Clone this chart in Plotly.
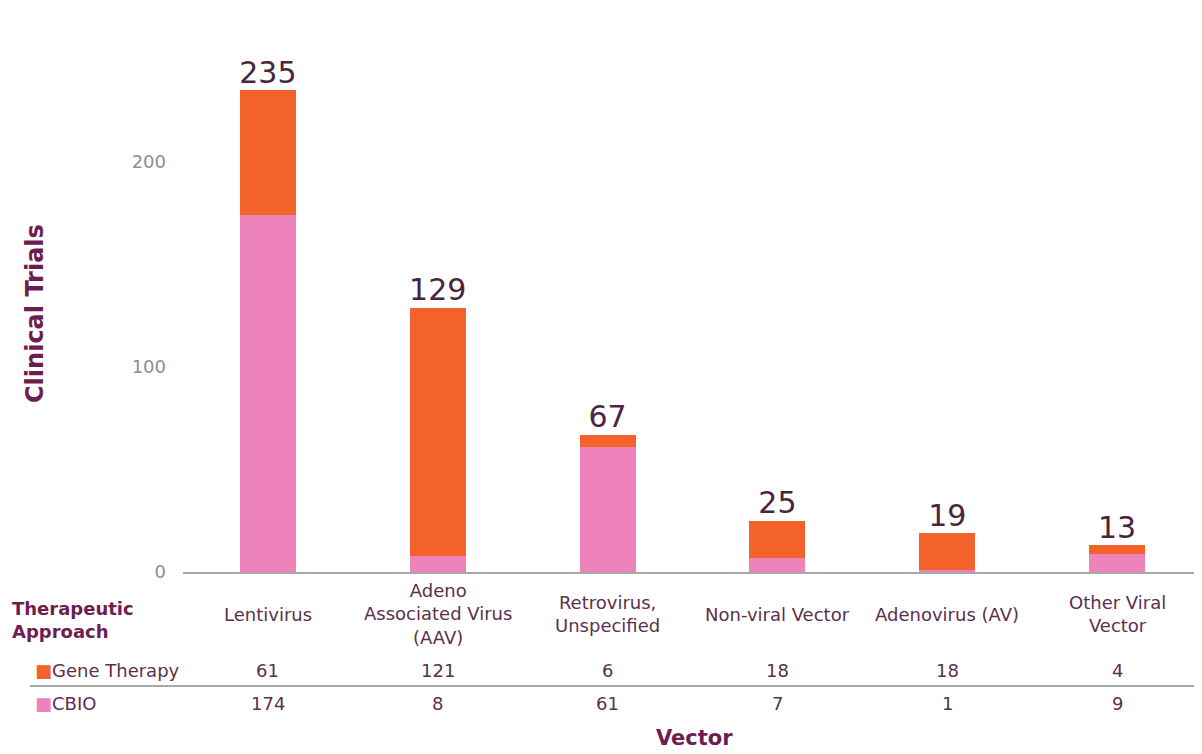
import plotly.graph_objects as go

categories = ["Lentivirus", "Adeno Associated Virus (AAV)", "Retrovirus, Unspecified",
              "Non-viral Vector", "Adenovirus (AV)", "Other Viral Vector"]
category_labels = ["Lentivirus", "Adeno<br>Associated Virus<br>(AAV)", "Retrovirus,<br>Unspecified",
                   "Non-viral Vector", "Adenovirus (AV)", "Other Viral<br>Vector"]
gene_therapy = [61, 121, 6, 18, 18, 4]
cbio = [174, 8, 61, 7, 1, 9]
totals = [g + c for g, c in zip(gene_therapy, cbio)]
y_ticks = [0, 100, 200]

ORANGE = "#F3622A"
PINK = "#EE83BC"
TXT = "#5a3050"
TITLE = "#6e1d50"
FONT = "DejaVu Sans"

OFF = 8  # page body margin in the browser
W, H = 1202 - OFF, 754 - OFF
ZERO_Y = 572  # screen pixel of the zero line
L = 183 - OFF
T = 18 - OFF
R = 0
B = H - (ZERO_Y - OFF)
plot_h = H - T - B


def py(pix):
    return (ZERO_Y - pix) / plot_h


def px(pix):
    return (pix - 183) / (W - L - R)


fig = go.Figure()
fig.add_trace(go.Bar(x=categories, y=cbio, name="CBIO", marker_color=PINK,
                     marker_line_width=0, showlegend=False))
fig.add_trace(go.Bar(x=categories, y=gene_therapy, name="Gene Therapy", marker_color=ORANGE,
                     marker_line_width=0, showlegend=False))
fig.add_trace(go.Scatter(x=categories, y=totals, mode="text", text=[str(t) for t in totals],
                         textposition="top center",
                         textfont=dict(family=FONT, size=30, color="#4a2540"),
                         showlegend=False, hoverinfo="skip"))

fig.update_layout(
    width=W, height=H,
    margin=dict(l=L, r=R, t=T, b=B),
    paper_bgcolor="white", plot_bgcolor="white",
    barmode="stack", bargap=0.67,
    font=dict(family=FONT, size=18, color=TXT),
    xaxis=dict(showticklabels=False, showline=True, linecolor="#a8a8a8", linewidth=2,
               ticks="", showgrid=False, zeroline=False),
    yaxis=dict(range=[0, plot_h / 2.05], tickvals=y_ticks, showgrid=False, zeroline=False,
               showline=False, ticks="", ticklabelstandoff=16,
               tickfont=dict(family=FONT, size=18, color="#8e8e8e")),
)

anns = []
for cat, lab, g, c in zip(categories, category_labels, gene_therapy, cbio):
    anns.append(dict(x=cat, xref="x", y=py(614), yref="paper", text=lab, showarrow=False,
                     yanchor="middle", font=dict(size=18, color=TXT)))
    anns.append(dict(x=cat, xref="x", y=py(670), yref="paper", text=str(g), showarrow=False,
                     yanchor="middle", font=dict(size=18, color=TXT)))
    anns.append(dict(x=cat, xref="x", y=py(703), yref="paper", text=str(c), showarrow=False,
                     yanchor="middle", font=dict(size=18, color=TXT)))

anns.append(dict(x=px(10), xref="paper", y=py(620), yref="paper", xanchor="left", yanchor="middle",
                 align="left", text="<b>Therapeutic<br>Approach</b>", showarrow=False,
                 font=dict(size=18, color=TITLE)))
anns.append(dict(x=px(33), xref="paper", y=py(670), yref="paper", xanchor="left", yanchor="middle",
                 text=f"<span style='color:{ORANGE}'>■</span>Gene Therapy", showarrow=False,
                 font=dict(size=18, color=TXT)))
anns.append(dict(x=px(33), xref="paper", y=py(703), yref="paper", xanchor="left", yanchor="middle",
                 text=f"<span style='color:{PINK}'>■</span>CBIO", showarrow=False,
                 font=dict(size=18, color=TXT)))
anns.append(dict(x=px(694), xref="paper", y=py(738), yref="paper", yanchor="middle",
                 text="<b>Vector</b>", showarrow=False, font=dict(size=21, color=TITLE)))
anns.append(dict(x=px(35), xref="paper", y=py(314), yref="paper", yanchor="middle", xanchor="center",
                 text="<b>Clinical Trials</b>", textangle=-90, showarrow=False,
                 font=dict(size=24, color=TITLE)))
fig.update_layout(annotations=anns)

fig.add_shape(type="line", xref="paper", yref="paper", x0=px(30), x1=1, y0=py(686), y1=py(686),
              line=dict(color="#a8a8a8", width=2))

fig.write_html("out.html")
